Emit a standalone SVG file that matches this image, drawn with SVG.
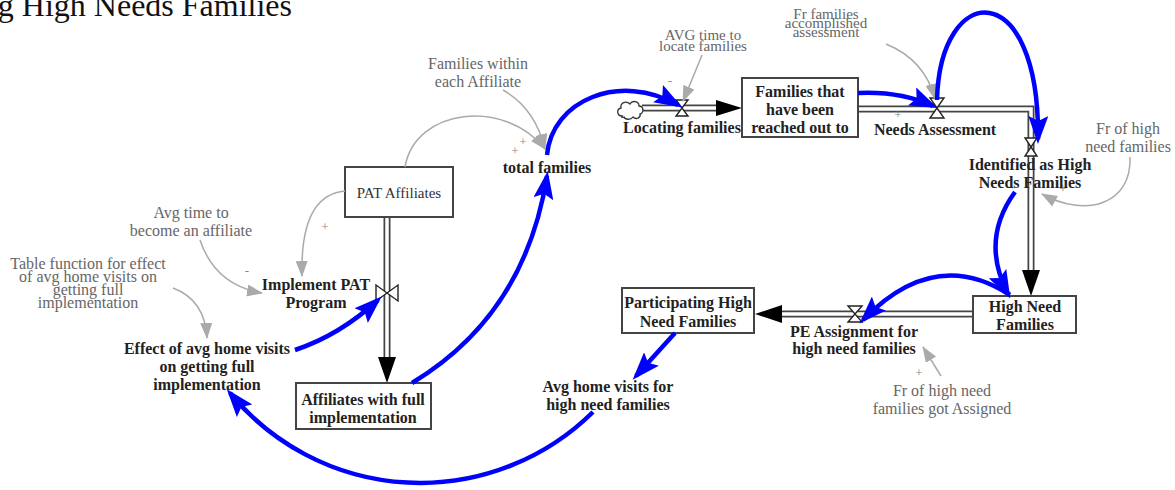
<svg xmlns="http://www.w3.org/2000/svg" width="1175" height="490" viewBox="0 0 1175 490">
  <style>
    .lbl { font-family: "Liberation Serif", "Times New Roman", serif; font-size: 16px; font-weight: bold; fill: #222; text-anchor: middle; }
    .aux { font-family: "Liberation Serif", "Times New Roman", serif; font-size: 16px; fill: #666; text-anchor: middle; }
    .tight { font-size: 15px; }
    .sign { font-family: "Liberation Serif", "Times New Roman", serif; font-size: 13px; fill: #888; text-anchor: middle; }
    .stock { fill: #fff; stroke: #444; stroke-width: 2; }
    .pipe-out { fill: none; stroke: #444; stroke-width: 7; }
    .pipe-in { fill: none; stroke: #fff; stroke-width: 3.5; }
    .valve { fill: #fff; stroke: #222; stroke-width: 1.4; stroke-linejoin: miter; }
    .head { fill: #000; }
    .link { fill: none; stroke: #aaa; stroke-width: 1.5; marker-end: url(#grayHead); }
    .loop { fill: none; stroke: #0000ff; stroke-width: 4.5; marker-end: url(#blueHead); }
  </style>
  <defs>
    <marker id="grayHead" viewBox="0 0 16 12" refX="15" refY="6" markerWidth="16" markerHeight="12" markerUnits="userSpaceOnUse" orient="auto">
      <path d="M0,0 L16,6 L0,12 z" fill="#aaa"/>
    </marker>
    <marker id="blueHead" viewBox="0 0 28 20" refX="23" refY="10" markerWidth="28" markerHeight="20" markerUnits="userSpaceOnUse" orient="auto">
      <path d="M0,0 L28,10 L0,20 L5,10 z" fill="#0000ff"/>
    </marker>
  </defs>

  <!-- title -->
  <text x="292" y="16" font-family="'Liberation Serif', 'Times New Roman', serif" font-size="32" fill="#111" text-anchor="end">g High Needs Families</text>

  <!-- flow pipes (material flows) -->
  <g id="pipes">
    <path class="pipe-out" d="M642,108 H717"/>
    <path class="pipe-in" d="M642,108 H718"/>
    <polygon class="head" points="716,100 742,108 716,116"/>

    <path class="pipe-out" d="M858,109 H1031 V270"/>
    <path class="pipe-in" d="M858,109 H1031 V271"/>
    <polygon class="head" points="1022,270 1031,296 1040,270"/>

    <path class="pipe-out" d="M973,314 H781"/>
    <path class="pipe-in" d="M973,314 H780"/>
    <polygon class="head" points="782,305 755,314 782,323"/>

    <path class="pipe-out" d="M387,218 V358"/>
    <path class="pipe-in" d="M387,218 V359"/>
    <polygon class="head" points="378,357 387,383 396,357"/>
  </g>

  <!-- source cloud -->
  <g id="cloud">
    <path d="M622,116 c-5,0 -6,-7 -1,-8 c-1,-5 5,-8 9,-4 c2,-4 9,-3 9,2 c5,0 5,7 1,8 c1,4 -4,6 -7,3 c-2,3 -8,3 -9,0 c-2,1 -3,0 -2,-1 z" fill="#fff" stroke="#333" stroke-width="1.3"/>
  </g>

  <!-- stocks -->
  <g id="pat-affiliates">
    <rect class="stock" x="345" y="167" width="108" height="50"/>
    <text x="399" y="198" font-family="'Liberation Serif', 'Times New Roman', serif" font-size="15" fill="#333" text-anchor="middle">PAT Affiliates</text>
  </g>
  <g id="families-reached">
    <rect class="stock" x="742" y="78" width="116" height="59"/>
    <text class="lbl" x="800" y="97">Families that</text>
    <text class="lbl" x="800" y="115">have been</text>
    <text class="lbl" x="800" y="133">reached out to</text>
  </g>
  <g id="high-need-families">
    <rect class="stock" x="973" y="296" width="103" height="37"/>
    <text class="lbl" x="1025" y="312">High Need</text>
    <text class="lbl" x="1025" y="330">Families</text>
  </g>
  <g id="participating">
    <rect class="stock" x="622" y="288" width="132" height="45"/>
    <text class="lbl" x="688" y="308">Participating High</text>
    <text class="lbl" x="688" y="327">Need Families</text>
  </g>
  <g id="affiliates-full">
    <rect class="stock" x="296" y="383" width="135" height="46"/>
    <text class="lbl" x="363" y="405">Affiliates with full</text>
    <text class="lbl" x="363" y="423">implementation</text>
  </g>

  <!-- flows (valves + names) -->
  <g id="locating-families">
    <path class="valve" d="M676,100 H688 L676,116 H688 Z"/>
    <text class="lbl" x="682" y="133">Locating families</text>
  </g>
  <g id="needs-assessment">
    <path class="valve" d="M930,98 H944 L930,118 H944 Z"/>
    <text class="lbl" x="935" y="135">Needs Assessment</text>
  </g>
  <g id="identified">
    <path class="valve" d="M1025,138 H1037 L1025,156 H1037 Z"/>
    <text class="lbl" x="1030" y="170">Identified as High</text>
    <text class="lbl" x="1030" y="188">Needs Families</text>
  </g>
  <g id="pe-assignment">
    <path class="valve" d="M848,306 H862 L848,322 H862 Z"/>
    <text class="lbl" x="854" y="337">PE Assignment for</text>
    <text class="lbl" x="854" y="354">high need families</text>
  </g>
  <g id="implement-pat">
    <path class="valve" d="M376,285 V301 L398,285 V301 Z"/>
    <text class="lbl" x="316" y="290">Implement PAT</text>
    <text class="lbl" x="316" y="308">Program</text>
  </g>

  <!-- auxiliaries -->
  <g id="total-families"><text class="lbl" x="547" y="173">total families</text></g>
  <g id="effect-home-visits">
    <text class="lbl" x="207" y="354">Effect of avg home visits</text>
    <text class="lbl" x="207" y="372">on getting full</text>
    <text class="lbl" x="207" y="390">implementation</text>
  </g>
  <g id="avg-home-visits">
    <text class="lbl" x="608" y="392">Avg home visits for</text>
    <text class="lbl" x="608" y="410">high need families</text>
  </g>
  <g id="families-within">
    <text class="aux" x="478" y="69">Families within</text>
    <text class="aux" x="478" y="87">each Affiliate</text>
  </g>
  <g id="avg-time-locate">
    <text class="aux tight" x="703" y="40">AVG time to</text>
    <text class="aux tight" x="703" y="51">locate families</text>
  </g>
  <g id="fr-accomplished">
    <text class="aux tight" x="826" y="19">Fr families</text>
    <text class="aux tight" x="826" y="28">accomplished</text>
    <text class="aux tight" x="826" y="37">assessment</text>
  </g>
  <g id="fr-high-need">
    <text class="aux" x="1128" y="134">Fr of high</text>
    <text class="aux" x="1128" y="152">need families</text>
  </g>
  <g id="fr-assigned">
    <text class="aux" x="942" y="396">Fr of high need</text>
    <text class="aux" x="942" y="414">families got Assigned</text>
  </g>
  <g id="avg-time-affiliate">
    <text class="aux" x="191" y="218">Avg time to</text>
    <text class="aux" x="191" y="236">become an affiliate</text>
  </g>
  <g id="table-function">
    <text class="aux" x="88" y="269">Table function for effect</text>
    <text class="aux" x="88" y="282">of avg home visits on</text>
    <text class="aux" x="88" y="295">getting full</text>
    <text class="aux" x="88" y="308">implementation</text>
  </g>

  <!-- causal links -->
  <g id="connectors">
    <path class="link" d="M345,191 Q300,195 302,276"/>
    <path class="link" d="M200,240 Q215,285 262,293"/>
    <path class="link" d="M173,288 Q205,300 207,338"/>
    <path class="link" d="M405,167 C415,108 505,98 545,149"/>
    <path class="link" d="M503,90 Q535,108 545,149"/>
    <path class="link" d="M702,55 Q694,75 683,101"/>
    <path class="link" d="M886,44 Q925,60 935,99"/>
    <path class="link" d="M1130,157 C1132,205 1085,218 1042,194"/>
    <path class="link" d="M941,376 L923,347"/>

    <path class="loop" d="M295,350 Q340,335 378,300"/>
    <path class="loop" d="M412,383 Q525,315 547,176"/>
    <path class="loop" d="M547,155 C552,100 620,72 678,105"/>
    <path class="loop" d="M858,93 Q900,91 933,106"/>
    <path class="loop" d="M937,100 C940,-20 1040,-25 1038,139"/>
    <path class="loop" d="M1015,192 Q980,240 1008,294"/>
    <path class="loop" d="M1010,295 Q935,246 863,320"/>
    <path class="loop" d="M675,333 L636,376"/>
    <path class="loop" d="M593,412 A246,246 0 0 1 230,393"/>

    <text class="sign" x="325" y="231">+</text>
    <text class="sign" x="247" y="275">-</text>
    <text class="sign" x="515" y="155">+</text>
    <text class="sign" x="523" y="146">+</text>
    <text class="sign" x="670" y="85">-</text>
    <text class="sign" x="898" y="119">+</text>
    <text class="sign" x="1063" y="193">+</text>
    <text class="sign" x="919" y="377">+</text>
  </g>
</svg>
